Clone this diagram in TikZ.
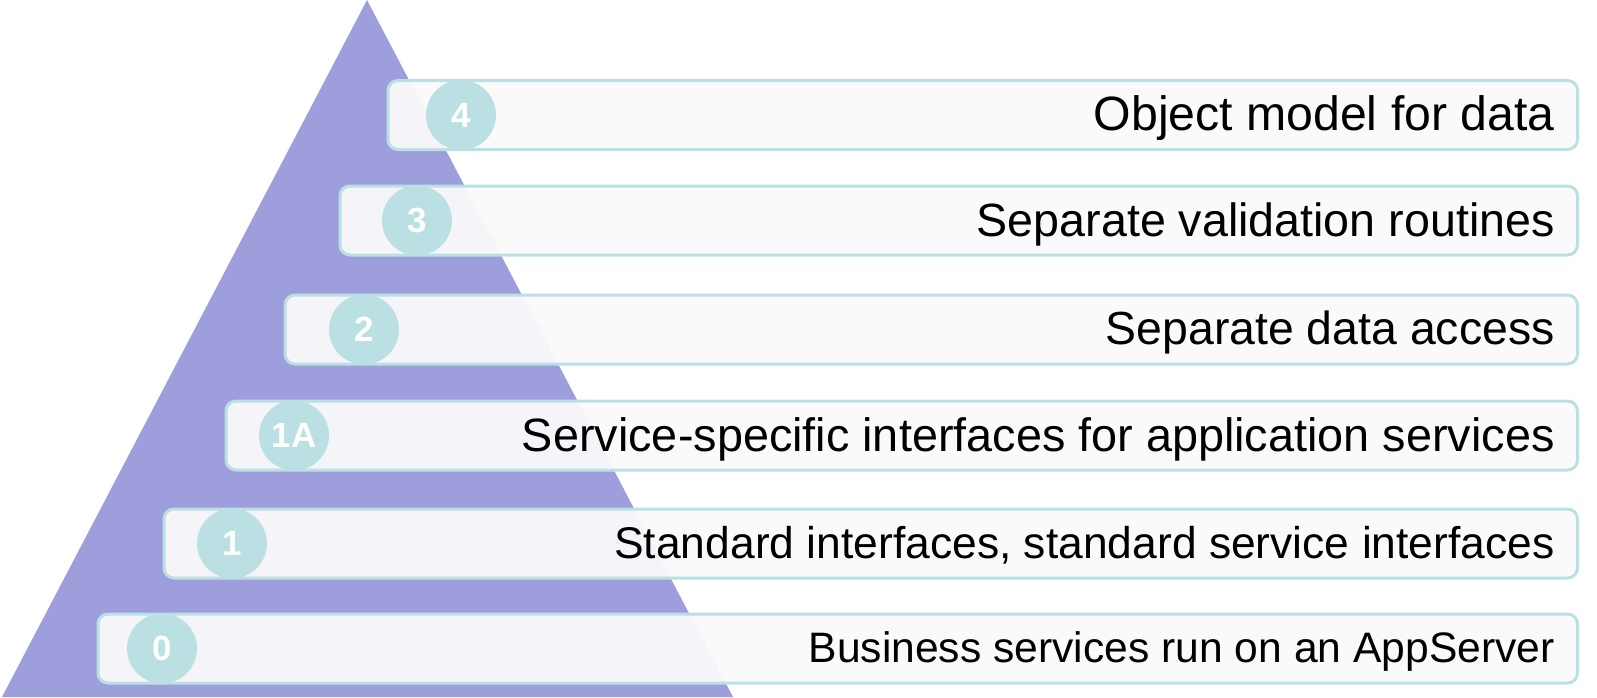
\documentclass[tikz,border=0pt]{standalone}
\usepackage{fontspec}
\setmainfont{Liberation Sans}
\usetikzlibrary{calc}
\definecolor{pyramid}{RGB}{158,158,221}
\definecolor{barline}{RGB}{187,224,227}
\definecolor{barfill}{RGB}{250,250,251}

\begin{document}
\begin{tikzpicture}[x=0.5pt,y=-0.5pt]
        \useasboundingbox (0,0) rectangle (1597,697);
        \fill[pyramid] (2,697) -- (367,0) -- (733,697) -- cycle;
        \foreach \name/\num/\cy/\lx/\cx/\fs/\txt in {
                four/4/115/388/461/24.1/{Object model for data},
                three/3/220.5/340/417/23.3/{Separate validation routines},
                two/2/329.5/285/364/23.2/{Separate data access},
                oneA/1A/435.5/226/294/23.4/{Service-specific interfaces for application services},
                one/1/543.5/164/232/22.2/{Standard interfaces, standard service interfaces},
                zero/0/648.5/98/162/21.3/{Business services run on an AppServer}} {
                \filldraw[barline, line width=1.5pt, fill=barfill, fill opacity=0.95, rounded corners=5pt] (\lx,\cy-34.5) rectangle (1577.5,\cy+34.5);
                \node[circle, fill=barline, minimum size=35pt, inner sep=0pt, text=white, font=\bfseries\fontsize{17.5}{17.5}\selectfont] (num-\name) at (\cx,\cy) {\num};
                \node[anchor=base east, inner sep=0pt, font=\fontsize{\fs}{\fs}\selectfont] (txt-\name) at (1555,\cy+0.58*\fs+2) {\txt};
            }
    \end{tikzpicture}
\end{document}
